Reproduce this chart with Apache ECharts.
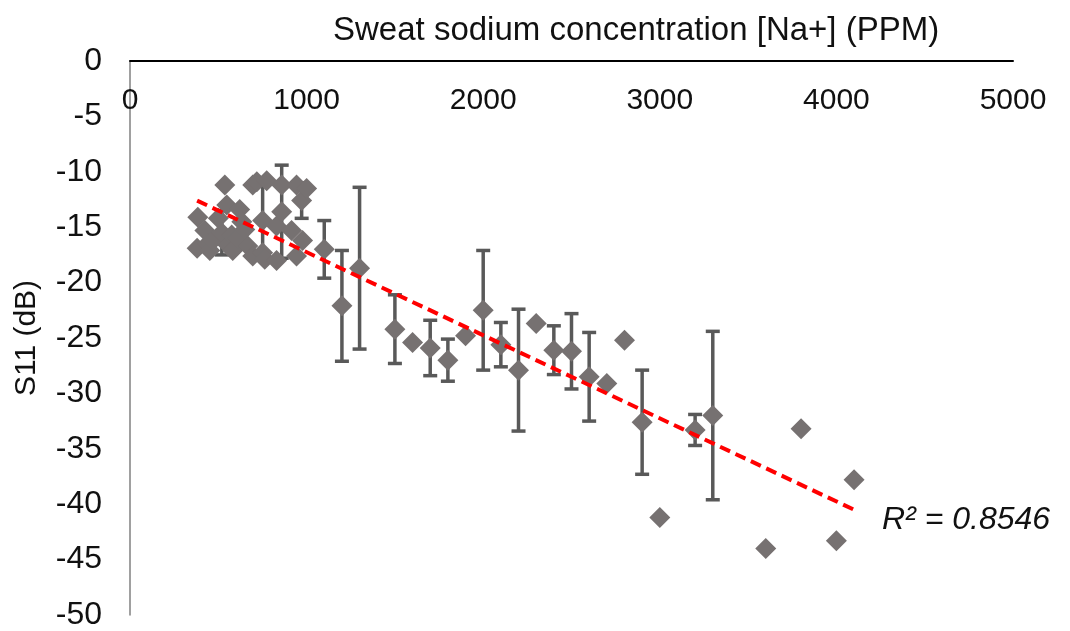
<!DOCTYPE html>
<html>
<head>
<meta charset="utf-8">
<script src="https://cdn.jsdelivr.net/npm/echarts@6/dist/echarts.min.js"></script>
<style>
  html, body { margin: 0; padding: 0; background: #fff; }
  #chart { width: 1070px; height: 631px; }
</style>
</head>
<body>
<div id="chart"></div>
<script>
// sodium concentration (ppm) of each measurement
var naPpm = [380, 384, 424, 440, 452, 469, 500, 520, 537, 548, 554, 576, 582, 610, 621, 633, 650, 667, 695, 695,
             718, 751, 751, 763, 774, 830, 830, 859, 859, 915, 943, 943, 972, 977, 1000,
             1100, 1200, 1300, 1500, 1600, 1700, 1800, 1900, 2000, 2100, 2200, 2300, 2400, 2500,
             2600, 2700, 2800, 2900, 3000, 3200, 3300, 3600, 3800, 4000, 4100];
// S11 (dB)
var s11 = [-16.9, -14.1, -15.3, -16.5, -17.1, -16.2, -14.2, -15.5, -11.2, -13.0, -16.6, -15.7, -17.1, -16.0, -13.4, -14.5, -15.2, -16.7, -17.6, -11.2,
           -10.9, -14.4, -17.3, -17.9, -10.8, -14.9, -18.0, -11.2, -13.6, -15.3, -11.2, -17.6, -12.6, -16.2, -11.5,
           -17.0, -22.1, -18.7, -24.2, -25.4, -25.9, -27.0, -24.8, -22.5, -25.6, -27.9, -23.7, -26.1, -26.2,
           -28.5, -29.1, -25.2, -32.6, -41.2, -33.3, -32.0, -44.0, -33.2, -43.3, -37.8];
// +/- error (0 = no bar)
var s11Err = [0, 0, 0, 0, 0, 0, 0, 2.0, 0, 0, 0, 0, 0, 0, 0, 0, 0, 0, 0, 0,
              0, 3.3, 0, 0, 0, 0, 0, 0, 4.2, 0, 0, 0, 1.6, 0, 0,
              2.6, 5.0, 7.3, 3.1, 0, 2.5, 1.9, 0, 5.4, 2.0, 5.5, 0, 2.2, 3.4,
              4.0, 0, 0, 4.7, 0, 1.4, 7.6, 0, 0, 0, 0];

// linear trendline y = a*x + b
var trendSlope = -0.0075;
var trendIntercept = -9.75;
var r2Text = 'R² = 0.8546';

var xTicks = [0, 5000, 1000];   // min, max, step
var yTicks = [-50, 0, 5];

var points = naPpm.map(function (x, i) { return [x, s11[i]]; });
var bars = [];
naPpm.forEach(function (x, i) {
    if (s11Err[i] > 0) bars.push([x, s11[i] - s11Err[i], s11[i] + s11Err[i]]);
});
var xMin = Math.min.apply(null, naPpm), xMax = Math.max.apply(null, naPpm);
var trend = [[xMin, trendSlope * xMin + trendIntercept], [xMax, trendSlope * xMax + trendIntercept]];

var font = 'Liberation Sans, Arial, sans-serif';
var chart = echarts.init(document.getElementById('chart'));

var option = {
    animation: false,
    title: {
        text: 'Sweat sodium concentration [Na+] (PPM)',
        left: 328, top: 9,
        textStyle: { fontSize: 33, fontWeight: 'normal', color: '#111', fontFamily: font }
    },
    grid: { left: 130, right: 57, top: 61, bottom: 10 },
    xAxis: {
        type: 'value', position: 'top',
        min: xTicks[0], max: xTicks[1], interval: xTicks[2],
        axisLine: { show: true, onZero: false, lineStyle: { color: '#000', width: 2 } },
        axisTick: { show: false },
        splitLine: { show: false },
        axisLabel: {
            inside: true, margin: 25, fontSize: 30, color: '#111', fontFamily: font,
            formatter: function (v) { return String(v); }
        }
    },
    yAxis: {
        type: 'value',
        min: yTicks[0], max: yTicks[1], interval: yTicks[2],
        name: 'S11 (dB)', nameLocation: 'middle', nameGap: 88,
        nameTextStyle: { fontSize: 30, color: '#111', fontFamily: font },
        axisLine: { show: true, onZero: false, lineStyle: { color: '#808080', width: 1.5 } },
        axisTick: { show: false },
        splitLine: { show: false },
        axisLabel: { margin: 28, fontSize: 32, color: '#111', fontFamily: font }
    },
    series: [
        {
            type: 'custom',
            z: 1,
            data: bars,
            renderItem: function (params, api) {
                var top = api.coord([api.value(0), api.value(2)]);
                var bot = api.coord([api.value(0), api.value(1)]);
                var hw = 7;
                var st = { stroke: '#595959', lineWidth: 3.5 };
                return {
                    type: 'group',
                    children: [
                        { type: 'line', shape: { x1: top[0], y1: top[1], x2: bot[0], y2: bot[1] }, style: st },
                        { type: 'line', shape: { x1: top[0] - hw, y1: top[1], x2: top[0] + hw, y2: top[1] }, style: st },
                        { type: 'line', shape: { x1: bot[0] - hw, y1: bot[1], x2: bot[0] + hw, y2: bot[1] }, style: st }
                    ]
                };
            }
        },
        {
            type: 'scatter',
            z: 2,
            data: points,
            symbol: 'diamond',
            symbolSize: 21,
            itemStyle: { color: '#767171', opacity: 1 }
        },
        {
            type: 'line',
            z: 3,
            data: trend,
            showSymbol: false,
            lineStyle: { color: '#ff0000', width: 4, type: [11, 6] }
        }
    ],
    graphic: [
        {
            type: 'text',
            left: 882, top: 504,
            style: { text: r2Text, fontSize: 32, fontStyle: 'italic', fill: '#111', fontFamily: font }
        }
    ]
};

chart.setOption(option);
</script>
</body>
</html>
